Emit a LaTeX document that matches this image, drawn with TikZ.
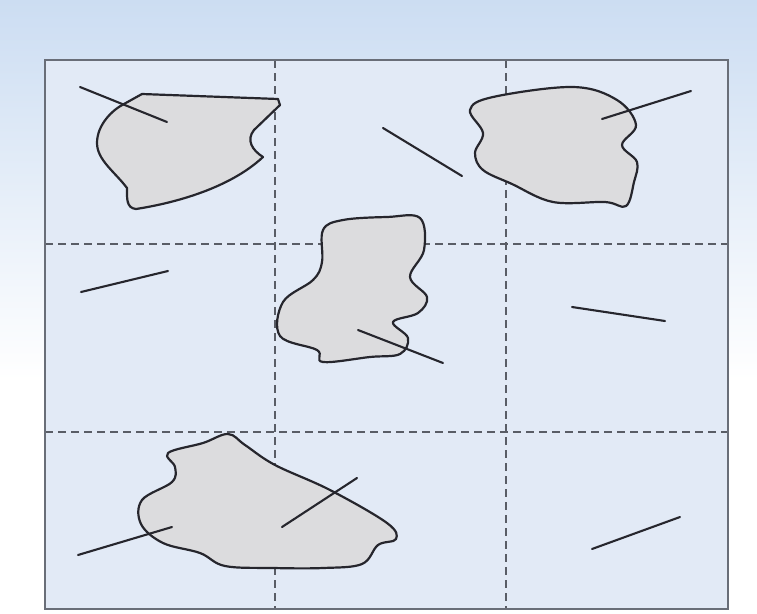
\documentclass[tikz,border=0pt]{standalone}
\usepackage{xcolor}
\usepackage{tikz}
\usetikzlibrary{calc}
\definecolor{skyblue}{RGB}{204,221,242}
\definecolor{panelblue}{RGB}{226,234,246}
\definecolor{framegray}{RGB}{105,110,120}
\definecolor{grainfill}{RGB}{220,220,222}
\definecolor{inkdark}{RGB}{38,38,45}

\begin{document}
\begin{tikzpicture}[
    x=1pt, y=-1pt,
    blob/.style={draw=inkdark, fill=grainfill, line width=2.2pt, line join=round},
    crack/.style={draw=inkdark, line width=2.1pt, line cap=round},
    gridline/.style={draw=framegray!85!black, line width=1.4pt, dash pattern=on 8pt off 5pt},
]
    \useasboundingbox (0,0) rectangle (757,613);
    \fill[white] (0,0) rectangle (757,613);
    \shade[top color=skyblue, bottom color=white] (0,0) rectangle (757,380);

    \fill[panelblue] (45,60) rectangle (728,609);

    \draw[gridline] (275,60) -- (275,609);
    \draw[gridline] (506,60) -- (506,609);
    \draw[gridline] (45,244) -- (728,244);
    \draw[gridline] (45,432) -- (728,432);

    \draw[blob] (142,94) -- (278,99) -- (280,105) -- (254,130)
        .. controls (246,140) and (252,150) .. (263,157)
        .. controls (230,188) and (175,203) .. (136,209)
        .. controls (126,208) and (127,198) .. (127,188)
        .. controls (115,172) and (97,160) .. (97,143)
        .. controls (97,125) and (112,110) .. (124,104) -- cycle;

    \draw[blob] plot[smooth cycle, tension=0.6] coordinates {
        (470,110) (493,97) (573,87) (617,100) (636,125) (622,145)
        (637,162) (634,182) (626,206) (605,202) (553,202) (512,184)
        (483,170) (475,153) (483,133)};

    \draw[blob] plot[smooth cycle, tension=0.6] coordinates {
        (323,230) (343,220) (387,217) (420,218) (424,250) (410,277)
        (427,297) (418,313) (393,322) (408,338) (400,354) (370,357)
        (323,362) (317,350) (280,336) (283,302) (313,280) (322,262)};

    \draw[blob] plot[smooth cycle, tension=0.6] coordinates {
        (168,453) (203,443) (228,434) (245,445) (275,465) (330,490)
        (387,523) (396,539) (378,545) (362,564) (323,568) (273,568)
        (225,566) (200,553) (163,543) (141,524) (142,500) (172,482)
        (175,467)};

    \draw[crack] (80,87) -- (167,122);
    \draw[crack] (602,119) -- (691,91);
    \draw[crack] (383,128) -- (462,176);
    \draw[crack] (81,292) -- (168,271);
    \draw[crack] (358,330) -- (443,363);
    \draw[crack] (572,307) -- (665,321);
    \draw[crack] (78,555) -- (172,527);
    \draw[crack] (282,527) -- (357,478);
    \draw[crack] (592,549) -- (680,517);

    \draw[framegray, line width=1.6pt] (45,60) rectangle (728,609);
\end{tikzpicture}
\end{document}
